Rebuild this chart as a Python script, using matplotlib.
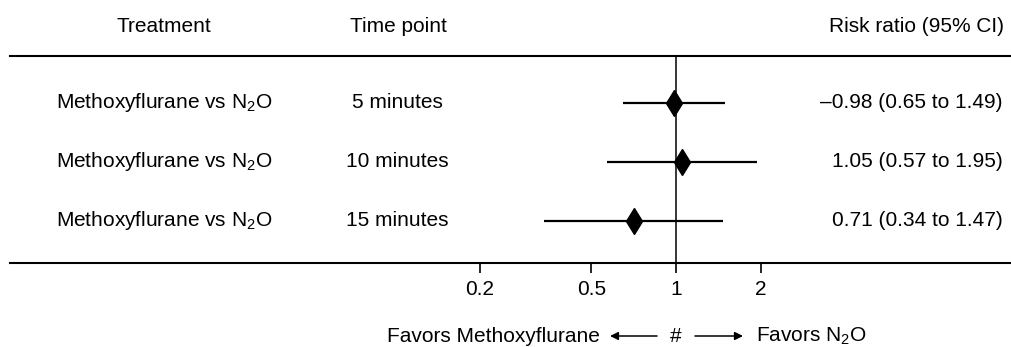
import matplotlib
matplotlib.use("Agg")
import matplotlib.pyplot as plt
import matplotlib.transforms as mtransforms
from matplotlib.patches import FancyArrowPatch

plt.rcParams['font.family'] = ['Liberation Sans', 'DejaVu Sans']
plt.rcParams['mathtext.fontset'] = 'custom'
plt.rcParams['mathtext.rm'] = 'Liberation Sans'
plt.rcParams['mathtext.it'] = 'Liberation Sans:italic'
plt.rcParams['mathtext.bf'] = 'Liberation Sans:bold'

# ---- data ----
treatments = ["Methoxyflurane vs N$_2$O", "Methoxyflurane vs N$_2$O", "Methoxyflurane vs N$_2$O"]
time_points = ["5 minutes", "10 minutes", "15 minutes"]
rr = [0.98, 1.05, 0.71]
ci_low = [0.65, 0.57, 0.34]
ci_high = [1.49, 1.95, 1.47]
rr_labels = ["\u20130.98 (0.65 to 1.49)", "1.05 (0.57 to 1.95)", "0.71 (0.34 to 1.47)"]
xticks = [0.2, 0.5, 1, 2]
xtick_labels = ["0.2", "0.5", "1", "2"]
headers = ["Treatment", "Time point", "Risk ratio (95% CI)"]

W, H = 1011, 347
fig = plt.figure(figsize=(W / 100, H / 100), dpi=100)

# axes geometry in pixels
ax_left, ax_right = 10, 1011
ax_top, ax_bot = 56, 263
ax = fig.add_axes([ax_left / W, 1 - ax_bot / H, (ax_right - ax_left) / W, (ax_bot - ax_top) / H])

ax.set_xscale('log')
px_per_dec = 281.0
x1_px = 676.0
ax.set_xlim(10 ** ((ax_left - x1_px) / px_per_dec), 10 ** ((ax_right - x1_px) / px_per_dec))
ax.set_ylim(3.717, 0.208)

ys = [1, 2, 3]
for y, m, lo, hi in zip(ys, rr, ci_low, ci_high):
    ax.plot([lo, hi], [y, y], color='black', lw=1.6, solid_capstyle='butt', zorder=2)
    ax.plot([m], [y], marker='d', color='black', markersize=13, zorder=3)

ax.axvline(1, color='black', lw=1.1, zorder=1)

for s in ['left', 'right']:
    ax.spines[s].set_visible(False)
for s in ['top', 'bottom']:
    ax.spines[s].set_linewidth(1.5)
ax.set_yticks([])
ax.set_xticks(xticks)
ax.set_xticklabels(xtick_labels, fontsize=15)
ax.minorticks_off()
ax.tick_params(axis='x', direction='out', length=7.5, width=1.2, pad=4.5)

# column texts
blend = mtransforms.blended_transform_factory(fig.transFigure, ax.transData)
fs = 15
fig.text(164 / W, 1 - 27 / H, headers[0], ha='center', va='center', fontsize=fs)
fig.text(398 / W, 1 - 27 / H, headers[1], ha='center', va='center', fontsize=fs)
fig.text(1004 / W, 1 - 27 / H, headers[2], ha='right', va='center', fontsize=fs)

for y, t, tp, lab in zip(ys, treatments, time_points, rr_labels):
    ax.text(164 / W, y, t, transform=blend, ha='center', va='center', fontsize=fs)
    ax.text(397 / W, y, tp, transform=blend, ha='center', va='center', fontsize=fs)
    ax.text(1003 / W, y, lab, transform=blend, ha='right', va='center', fontsize=fs)

# bottom favors line
yb = 1 - 336 / H
fig.text(600 / W, yb, "Favors Methoxyflurane", ha='right', va='center', fontsize=fs)
fig.text(676 / W, yb, "#", ha='center', va='center', fontsize=fs)
fig.text(756 / W, yb, "Favors N$_2$O", ha='left', va='center', fontsize=fs)
ap = dict(arrowstyle='-|>', color='black', lw=1.1, mutation_scale=12, shrinkA=0, shrinkB=0)
fig.add_artist(FancyArrowPatch((657 / W, yb), (610 / W, yb), transform=fig.transFigure, **ap))
fig.add_artist(FancyArrowPatch((695 / W, yb), (743 / W, yb), transform=fig.transFigure, **ap))

fig.savefig("out.png", dpi=100)
